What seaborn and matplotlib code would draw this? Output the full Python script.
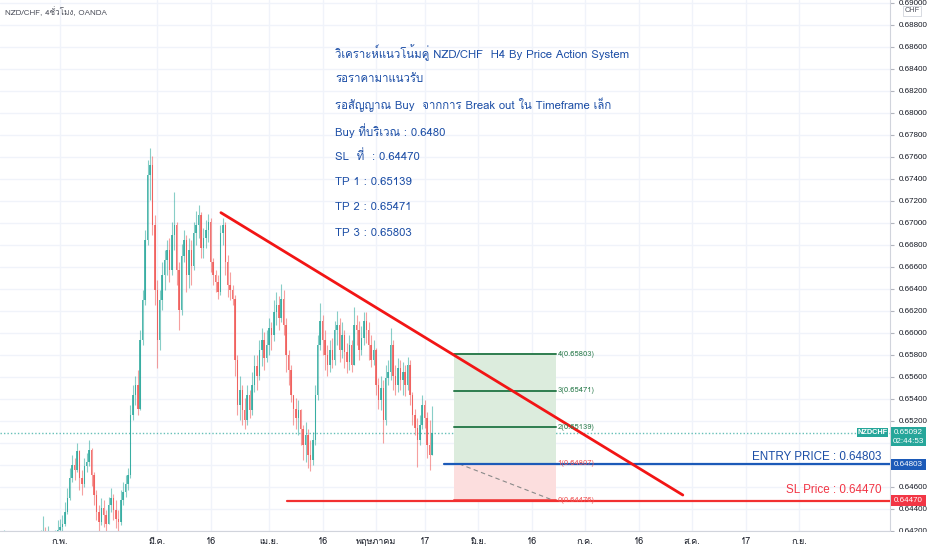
import numpy as np
import matplotlib
matplotlib.use('Agg')
import matplotlib.pyplot as plt
import seaborn as sns
from matplotlib import font_manager
from matplotlib.ft2font import FT2Font
from matplotlib.patches import Rectangle

# NZD/CHF candles, two per trading day, from mid January 2021
first_open = 0.6402
closes = [0.6407, 0.6412, 0.6404, 0.6401, 0.6406, 0.6402, 0.6398, 0.6401, 0.6404, 0.6407,
          0.6402, 0.6400, 0.6403, 0.6407, 0.6411, 0.6408, 0.6413, 0.6419, 0.6415, 0.6417,
          0.6412, 0.6409, 0.6413, 0.6421, 0.6423, 0.6426, 0.6437, 0.6450, 0.6468, 0.6480,
          0.6475, 0.6492, 0.6468, 0.6462, 0.6479, 0.6482, 0.6493, 0.6471, 0.6452, 0.6437,
          0.6428, 0.6441, 0.6434, 0.6426, 0.6443, 0.6450, 0.6439, 0.6431, 0.6428, 0.6448,
          0.6455, 0.6462, 0.6471, 0.6525, 0.6543, 0.6552, 0.6531, 0.6593, 0.6630, 0.6684,
          0.6743, 0.6752, 0.6698, 0.6639, 0.6593, 0.6630, 0.6652, 0.6666, 0.6675, 0.6657,
          0.6689, 0.6698, 0.6657, 0.6621, 0.6670, 0.6684, 0.6652, 0.6675, 0.6661, 0.6691,
          0.6698, 0.6707, 0.6677, 0.6686, 0.6693, 0.6701, 0.6664, 0.6652, 0.6646, 0.6637,
          0.6691, 0.6698, 0.6664, 0.6643, 0.6639, 0.6631, 0.6575, 0.6534, 0.6548, 0.6530,
          0.6521, 0.6543, 0.6530, 0.6552, 0.6570, 0.6561, 0.6584, 0.6593, 0.6577, 0.6589,
          0.6604, 0.6598, 0.6619, 0.6625, 0.6613, 0.6631, 0.6607, 0.6580, 0.6566, 0.6543,
          0.6531, 0.6522, 0.6530, 0.6512, 0.6498, 0.6507, 0.6489, 0.6484, 0.6502, 0.6543,
          0.6589, 0.6611, 0.6593, 0.6580, 0.6571, 0.6584, 0.6575, 0.6602, 0.6607, 0.6584,
          0.6598, 0.6582, 0.6573, 0.6589, 0.6571, 0.6607, 0.6602, 0.6584, 0.6595, 0.6611,
          0.6602, 0.6589, 0.6575, 0.6584, 0.6552, 0.6539, 0.6550, 0.6521, 0.6559, 0.6564,
          0.6589, 0.6561, 0.6552, 0.6568, 0.6557, 0.6564, 0.6552, 0.6571, 0.6543, 0.6525,
          0.6513, 0.6502, 0.6516, 0.6534, 0.6522, 0.6498, 0.6489, 0.65092]
highs = [0.6416, 0.6421, 0.6413, 0.6410, 0.6414, 0.6412, 0.6407, 0.6409, 0.6412, 0.6415,
         0.6411, 0.6408, 0.6412, 0.6414, 0.6418, 0.6416, 0.6421, 0.6433, 0.6423, 0.6424,
         0.6419, 0.6416, 0.6421, 0.6430, 0.6431, 0.6434, 0.6446, 0.6459, 0.6477, 0.6489,
         0.6486, 0.6500, 0.6493, 0.6475, 0.6486, 0.6491, 0.6502, 0.6495, 0.6473, 0.6457,
         0.6443, 0.6450, 0.6448, 0.6439, 0.6451, 0.6459, 0.6453, 0.6448, 0.6439, 0.6457,
         0.6464, 0.6471, 0.6477, 0.6534, 0.6552, 0.6561, 0.6566, 0.6602, 0.6639, 0.6693,
         0.6757, 0.6768, 0.6761, 0.6707, 0.6648, 0.6639, 0.6664, 0.6675, 0.6684, 0.6686,
         0.6701, 0.6728, 0.6701, 0.6664, 0.6681, 0.6693, 0.6689, 0.6686, 0.6684, 0.6701,
         0.6711, 0.6716, 0.6710, 0.6695, 0.6702, 0.6708, 0.6704, 0.6668, 0.6657, 0.6652,
         0.6698, 0.6704, 0.6701, 0.6671, 0.6655, 0.6643, 0.6634, 0.6580, 0.6561, 0.6552,
         0.6541, 0.6552, 0.6548, 0.6564, 0.6580, 0.6580, 0.6593, 0.6604, 0.6601, 0.6602,
         0.6613, 0.6610, 0.6630, 0.6637, 0.6633, 0.6644, 0.6639, 0.6613, 0.6584, 0.6571,
         0.6543, 0.6541, 0.6539, 0.6531, 0.6516, 0.6519, 0.6512, 0.6502, 0.6510, 0.6552,
         0.6598, 0.6627, 0.6616, 0.6602, 0.6589, 0.6593, 0.6595, 0.6611, 0.6620, 0.6613,
         0.6610, 0.6602, 0.6591, 0.6598, 0.6593, 0.6623, 0.6616, 0.6611, 0.6606, 0.6619,
         0.6619, 0.6610, 0.6598, 0.6593, 0.6586, 0.6559, 0.6561, 0.6557, 0.6571, 0.6575,
         0.6604, 0.6593, 0.6571, 0.6577, 0.6575, 0.6573, 0.6571, 0.6578, 0.6575, 0.6546,
         0.6531, 0.6522, 0.6525, 0.6543, 0.6539, 0.6528, 0.6521, 0.6533]
lows = [0.6398, 0.6402, 0.6397, 0.6393, 0.6398, 0.6395, 0.6389, 0.6393, 0.6397, 0.6400,
        0.6395, 0.6391, 0.6396, 0.6401, 0.6402, 0.6401, 0.6406, 0.6410, 0.6408, 0.6410,
        0.6404, 0.6402, 0.6406, 0.6412, 0.6415, 0.6418, 0.6424, 0.6435, 0.6448, 0.6464,
        0.6466, 0.6473, 0.6457, 0.6452, 0.6460, 0.6473, 0.6479, 0.6461, 0.6443, 0.6430,
        0.6419, 0.6425, 0.6423, 0.6418, 0.6430, 0.6437, 0.6430, 0.6422, 0.6420, 0.6425,
        0.6443, 0.6451, 0.6457, 0.6468, 0.6521, 0.6534, 0.6525, 0.6530, 0.6589, 0.6625,
        0.6680, 0.6721, 0.6689, 0.6625, 0.6568, 0.6584, 0.6621, 0.6639, 0.6652, 0.6646,
        0.6652, 0.6675, 0.6643, 0.6602, 0.6616, 0.6664, 0.6637, 0.6641, 0.6643, 0.6657,
        0.6680, 0.6686, 0.6668, 0.6668, 0.6677, 0.6682, 0.6655, 0.6643, 0.6637, 0.6631,
        0.6634, 0.6680, 0.6652, 0.6632, 0.6630, 0.6625, 0.6561, 0.6525, 0.6521, 0.6516,
        0.6512, 0.6516, 0.6522, 0.6525, 0.6546, 0.6548, 0.6557, 0.6570, 0.6566, 0.6573,
        0.6580, 0.6584, 0.6592, 0.6607, 0.6602, 0.6610, 0.6598, 0.6564, 0.6552, 0.6537,
        0.6516, 0.6512, 0.6507, 0.6498, 0.6484, 0.6482, 0.6477, 0.6474, 0.6480, 0.6498,
        0.6539, 0.6584, 0.6580, 0.6566, 0.6561, 0.6564, 0.6568, 0.6571, 0.6589, 0.6573,
        0.6577, 0.6568, 0.6563, 0.6566, 0.6564, 0.6571, 0.6589, 0.6575, 0.6580, 0.6589,
        0.6591, 0.6575, 0.6569, 0.6571, 0.6543, 0.6531, 0.6530, 0.6500, 0.6516, 0.6552,
        0.6557, 0.6548, 0.6543, 0.6546, 0.6548, 0.6543, 0.6542, 0.6548, 0.6534, 0.6516,
        0.6507, 0.6478, 0.6498, 0.6512, 0.6513, 0.6486, 0.6475, 0.6498]
first_day = -12  # trading days before 1 Feb 2021

last_price = 0.65092
entry_price = 0.64803
sl_price = 0.64470
tool_levels = [0.64476, 0.64807, 0.65139, 0.65471, 0.65803]
tool_labels = ['0(0.64476)', '1(0.64807)', '2(0.65139)', '3(0.65471)', '4(0.65803)']
tool_days = [81.1, 101.95]
trend_days = [33.1, 128.1]
trend_prices = [0.67091, 0.64524]
entry_start = 79.0
sl_start = 46.6

tick_dates = ['2021-02-01', '2021-03-01', '2021-03-16', '2021-04-01', '2021-04-16', '2021-05-03',
              '2021-05-17', '2021-06-01', '2021-06-16', '2021-07-01', '2021-07-16', '2021-08-02',
              '2021-08-17', '2021-09-01']
tick_names = ['ก.พ.', 'มี.ค.', '16', 'เม.ย.', '16', 'พฤษภาคม', '17', 'มิ.ย.', '16', 'ก.ค.', '16',
              'ส.ค.', '17', 'ก.ย.']
notes = ['วิเคราะห์แนวโน้มคู่ NZD/CHF  H4 By Price Action System',
         'รอราคามาแนวรับ',
         'รอสัญญาณ Buy  จากการ Break out ใน Timeframe เล็ก',
         'Buy ที่บริเวณ : 0.6480',
         'SL  ที่  : 0.64470',
         'TP 1 : 0.65139',
         'TP 2 : 0.65471',
         'TP 3 : 0.65803']

assert len(closes) == len(highs) == len(lows)

sns.set_style('white')

# look for an installed font that has Thai letters
thai = None
for f in font_manager.fontManager.ttflist:
    try:
        if 0x0E27 in FT2Font(f.fname).get_charmap():
            thai = f.name
            break
    except Exception:
        pass
fams = ([thai] if thai else []) + ['DejaVu Sans']
plt.rcParams['font.family'] = fams
lat = ['Liberation Sans', 'DejaVu Sans']
names = {f.name for f in font_manager.fontManager.ttflist}
if 'Liberation Sans Narrow' in names:
    big, big_size = ['Liberation Sans Narrow'], 10.5
else:
    big, big_size = lat, 8.4

W, H = 932, 550
fig = plt.figure(figsize=(W / 100, H / 100), dpi=100)
ax = fig.add_axes([0, 19 / H, 890 / W, 531 / H])

px_per_day = 4.862
ax.set_xlim(-60 / px_per_day, 830 / px_per_day)
ax.set_ylim(0.64197, 0.690245)
px = 0.000091  # price per pixel

# grid
yt = np.arange(0.642, 0.6901, 0.002)
xt = np.busday_count('2021-02-01', tick_dates)
for y in yt:
    ax.axhline(y, color='#f0f3fa', lw=1, zorder=0)
for x in xt:
    ax.axvline(x, color='#f0f3fa', lw=1, zorder=0)

# candles
c = np.array(closes)
o = np.concatenate([[first_open], c[:-1]])
hi = np.maximum(np.array(highs), np.maximum(o, c))
lo = np.minimum(np.array(lows), np.minimum(o, c))
xs = first_day + 0.5 * np.arange(len(c))
up = c >= o
cols = np.where(up, '#26a69a', '#ef5350')
ax.vlines(xs, lo, hi, colors=cols, lw=0.8, alpha=0.55, zorder=2)
ax.bar(xs, np.maximum(np.abs(c - o), 0.00004), bottom=np.minimum(o, c), width=0.3,
       color=cols, alpha=0.8, zorder=3, linewidth=0)

# current price dotted line
ax.axhline(last_price, color='#26a69a', lw=1, ls=(0, (1, 1.5)), alpha=0.7, zorder=1)

# long position tool
x0, x1 = tool_days
ax.add_patch(Rectangle((x0, tool_levels[1]), x1 - x0, tool_levels[4] - tool_levels[1],
                       fc='#dcecdd', ec='none', zorder=1))
ax.add_patch(Rectangle((x0, tool_levels[0]), x1 - x0, tool_levels[1] - tool_levels[0],
                       fc='#fcdede', ec='none', zorder=1))
for lev, lab in zip(tool_levels, tool_labels):
    col = '#2e7d4f' if lev > tool_levels[1] else '#f05a5a'
    ax.plot([x0, x1], [lev, lev], color=col, lw=1.4, zorder=4)
    ax.text(x1 + 0.35, lev, lab, color=col, fontsize=5.5, va='center', ha='left', zorder=6)
ax.plot([x0 + 1, x1 - 0.5], [tool_levels[1], tool_levels[0]], color='#8a8a8a', lw=0.8,
        ls=(0, (4, 3)), zorder=4)

# support / entry lines
ax.plot([sl_start, 200], [sl_price, sl_price], color='#f23030', lw=1.6, zorder=5)
ax.plot([entry_start, 200], [entry_price, entry_price], color='#1c5ab8', lw=1.6, zorder=5)

# trend line
sns.lineplot(x=trend_days, y=trend_prices, ax=ax, color='#f21515', lw=2, zorder=5)

txt_x = (881 - 60) / px_per_day
ax.annotate('ENTRY PRICE : 0.64803', (txt_x, entry_price), xytext=(0, 3.2),
            textcoords='offset points', ha='right', va='baseline', color='#1c4ea6',
            fontsize=big_size, family=big)
ax.annotate('SL Price : 0.64470', (txt_x, sl_price), xytext=(0, 5.6),
            textcoords='offset points', ha='right', va='baseline', color='#f23645',
            fontsize=big_size, family=big)

# axes styling; labels sitting under the scale boxes are hidden as on the chart
ax.yaxis.tick_right()
ax.set_yticks(yt)
ax.set_yticklabels(['' if abs(v - 0.648) < 1e-6 or abs(v - 0.650) < 1e-6 else '%.5f' % v
                    for v in yt])
ax.tick_params(axis='y', labelsize=5.8, labelcolor='#131722', length=3, color='#b2b5be',
               pad=3, width=0.8)
for lab in ax.get_yticklabels():
    lab.set_family(lat)
ax.set_xticks(xt)
ax.set_xticklabels(tick_names)
ax.tick_params(axis='x', labelsize=6.5, labelcolor='#131722', length=0, pad=4)
for side in ['left', 'top']:
    ax.spines[side].set_visible(False)
ax.spines['right'].set_color('#d1d4dc')
ax.spines['bottom'].set_color('#d1d4dc')

# price boxes on the scale
yx = ax.get_yaxis_transform()
bx0, bw = 891 / 890, 35 / 890


def scale_box(price, top, bottom, color, lines, x=bx0, w=bw):
    ax.add_patch(Rectangle((x, price - bottom * px), w, (top + bottom) * px, transform=yx,
                           fc=color, ec='none', zorder=10, clip_on=False))
    for k, t in enumerate(lines):
        ax.text(x + w / 2, price - k * 8.6 * px, t, transform=yx, fontsize=5.8, color='white',
                va='center', ha='center', family=lat, zorder=11, clip_on=False)


scale_box(entry_price, 5.5, 5.5, '#1c5ab8', ['0.64803'])
scale_box(sl_price, 5.5, 5.5, '#f23645', ['0.64470'])
scale_box(last_price, 5.5, 13.5, '#26a69a', ['0.65092', '02:44:53'])
ax.add_patch(Rectangle((857.3 / 890, last_price - 4.3 * px), 30.4 / 890, 8.8 * px,
                       transform=yx, fc='#26a69a', ec='none', zorder=10))
ax.text(872.5 / 890, last_price, 'NZDCHF', transform=yx, fontsize=5.3, color='white',
        va='center', ha='center', weight='bold', family=lat, zorder=11)

# header and notes
fig.text(5 / W, 1 - 12 / H, 'NZD/CHF, 4ชั่วโมง, OANDA', fontsize=5.8, color='#50535e',
         va='center', ha='left')
fig.text(912 / W, 1 - 11 / H, 'CHF', fontsize=5.3, color='#50535e', va='center', ha='center',
         family=lat,
         bbox=dict(boxstyle='square,pad=0.2', fc='white', ec='#d1d4dc', lw=0.6), zorder=12)
for k, line in enumerate(notes):
    fig.text(335 / W, 1 - (52.7 + 25.8 * k) / H, line, fontsize=8.2, color='#1c4ea6',
             va='center', ha='left')

# hide the clipped bottom price label like the time scale does
fig.patches.append(Rectangle((890 / W, 0), 42 / W, 18 / H, transform=fig.transFigure,
                             fc='white', ec='none', zorder=20))

fig.savefig('out.png', dpi=100)
